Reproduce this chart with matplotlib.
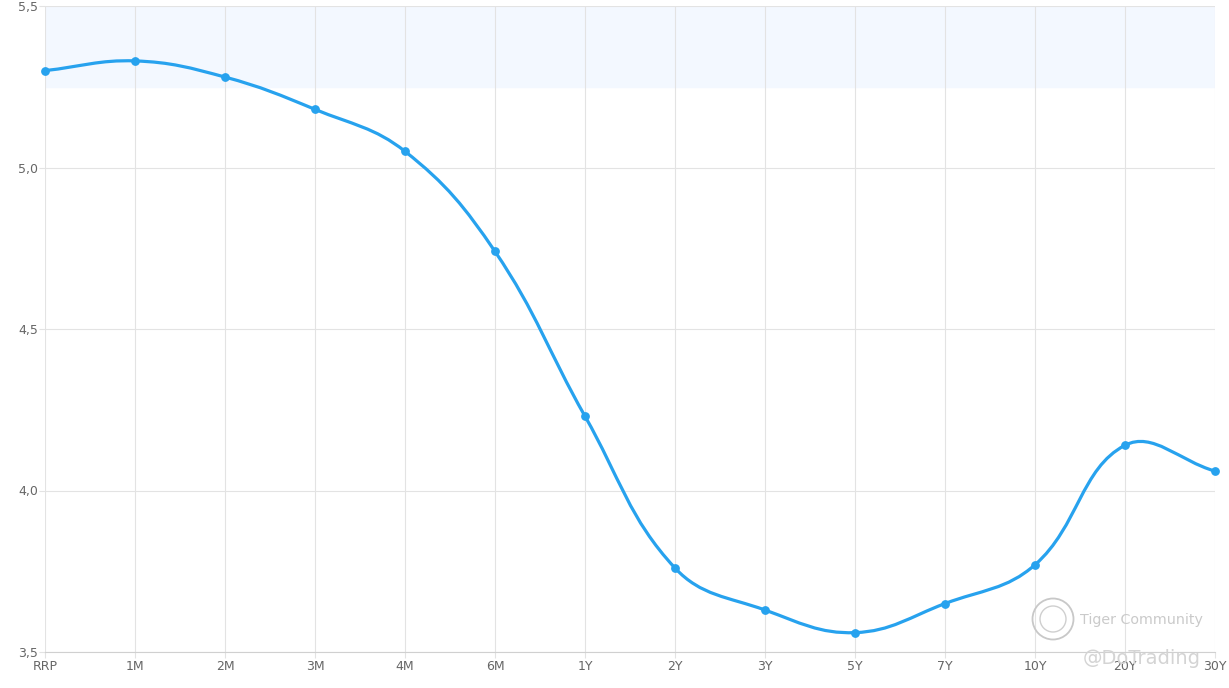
import numpy as np
import matplotlib
matplotlib.use("Agg")
import matplotlib.pyplot as plt
from matplotlib.path import Path
from matplotlib.patches import PathPatch, Circle

labels = ["RRP", "1M", "2M", "3M", "4M", "6M", "1Y", "2Y", "3Y", "5Y", "7Y", "10Y", "20Y", "30Y"]
yields = [5.30, 5.33, 5.28, 5.18, 5.05, 4.74, 4.23, 3.76, 3.63, 3.56, 3.65, 3.77, 4.14, 4.06]
band = (5.25, 5.5)
yticks = [3.5, 4.0, 4.5, 5.0, 5.5]

W, H = 1229, 688
fig = plt.figure(figsize=(W / 100, H / 100), dpi=100)
ax = fig.add_axes([45 / W, 36 / H, 1170 / W, 646 / H])
x = np.arange(len(labels))
ax.set_xlim(0, len(labels) - 1)
ax.set_ylim(3.5, 5.5)

# band at the top
ax.axhspan(band[0], band[1], color="#f3f8ff", zorder=0)

# spline with tension 0.4 (control points computed in pixel space)
sx = 1170 / (len(labels) - 1)
sy = 646 / 2.0
px = x * sx
py = np.array(yields) * sy
t = 0.4
cp_prev, cp_next = [], []
n = len(px)
for i in range(n):
    p0 = (px[max(i - 1, 0)], py[max(i - 1, 0)])
    p1 = (px[i], py[i])
    p2 = (px[min(i + 1, n - 1)], py[min(i + 1, n - 1)])
    d01 = np.hypot(p1[0] - p0[0], p1[1] - p0[1])
    d12 = np.hypot(p2[0] - p1[0], p2[1] - p1[1])
    s01 = d01 / (d01 + d12) if d01 + d12 else 0
    s12 = d12 / (d01 + d12) if d01 + d12 else 0
    fa, fb = t * s01, t * s12
    cp_prev.append((p1[0] - fa * (p2[0] - p0[0]), p1[1] - fa * (p2[1] - p0[1])))
    cp_next.append((p1[0] + fb * (p2[0] - p0[0]), p1[1] + fb * (p2[1] - p0[1])))

verts = [(x[0], yields[0])]
codes = [Path.MOVETO]
for i in range(n - 1):
    c1 = (cp_next[i][0] / sx, cp_next[i][1] / sy)
    c2 = (cp_prev[i + 1][0] / sx, cp_prev[i + 1][1] / sy)
    verts += [c1, c2, (x[i + 1], yields[i + 1])]
    codes += [Path.CURVE4] * 3
line_color = "#27a2ee"
ax.add_patch(PathPatch(Path(verts, codes), fill=False, edgecolor=line_color,
                       lw=2.3, zorder=3, clip_on=False))
ax.scatter(x, yields, s=28, color=line_color, zorder=4, clip_on=False)

ax.set_xticks(x)
ax.set_xticklabels(labels)
ax.set_yticks(yticks)
ax.set_yticklabels([f"{v:.1f}".replace(".", ",") for v in yticks])
ax.grid(True, color="#e3e3e3", lw=0.8, zorder=1)
ax.set_axisbelow(True)
for s in ["top", "right", "left"]:
    ax.spines[s].set_visible(False)
ax.spines["bottom"].set_color("#d0d0d0")
ax.tick_params(axis="both", length=4, color="#e3e3e3", labelsize=9, labelcolor="#666666")
ax.tick_params(axis="y", pad=1)
ax.tick_params(axis="x", pad=2)

# watermark
fig.text(1080 / W, 1 - 620 / H, "Tiger Community", fontsize=10.3, color="#cacaca",
         ha="left", va="center", zorder=5)
fig.text(1083 / W, 1 - 659 / H, "@DoTrading", fontsize=14, color="#d4d4d4",
         ha="left", va="center", zorder=5)
circ = Circle((10.53, (H - 619) / 100), 0.205, transform=fig.dpi_scale_trans,
              fill=False, edgecolor="#c8c8c8", lw=1.3)
fig.patches.append(circ)
circ2 = Circle((10.53, (H - 619) / 100), 0.13, transform=fig.dpi_scale_trans,
               fill=False, edgecolor="#cfcfcf", lw=1.0)
fig.patches.append(circ2)

fig.savefig("out.png", dpi=100)
